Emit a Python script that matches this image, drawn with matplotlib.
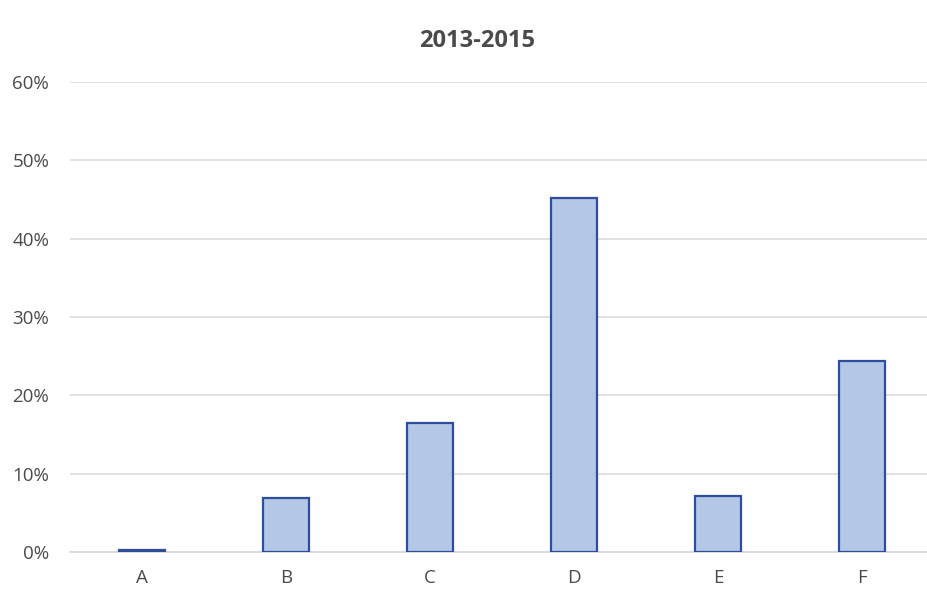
import matplotlib
matplotlib.use("Agg")
import matplotlib.pyplot as plt
from matplotlib.ticker import FuncFormatter

plt.rcParams['font.family'] = ['Open Sans', 'DejaVu Sans']

categories = ["A", "B", "C", "D", "E", "F"]
values = [0.3, 6.9, 16.5, 45.2, 7.2, 24.4]
title = "2013-2015"

W, H = 927, 592
fig = plt.figure(figsize=(W/100, H/100), dpi=100)
left, right, top, bottom = 70, 927, 82, 552
ax = fig.add_axes([left/W, (H-bottom)/H, (right-left)/W, (bottom-top)/H])

x = list(range(len(categories)))
ax.bar(x, values, width=0.325, color="#B4C7E7", edgecolor="#2E4D9B", linewidth=1.6, zorder=3)
ax.set_ylim(0, 60)
ax.set_xlim(-0.5, 5.5 - 7/144)
ax.set_yticks(range(0, 61, 10))
ax.yaxis.set_major_formatter(FuncFormatter(lambda v, p: f"{int(v)}%"))
ax.set_xticks(x)
ax.set_xticklabels(categories)
ax.grid(axis="y", color="#DCDCDC", linewidth=1.2, zorder=0)
for s in ["top", "right", "left"]:
    ax.spines[s].set_visible(False)
ax.spines["bottom"].set_color("#D9D9D9")
ax.spines["bottom"].set_linewidth(1.2)
ax.tick_params(axis="both", length=0, labelsize=13.5, colors="#4A4A4A", pad=12)
ax.tick_params(axis="y", pad=15)
fig.text(477/W, 1 - 41/H, title, ha="center", va="center", fontsize=17, fontweight="bold", color="#4A4A4A")
fig.savefig("out.png", dpi=100)
